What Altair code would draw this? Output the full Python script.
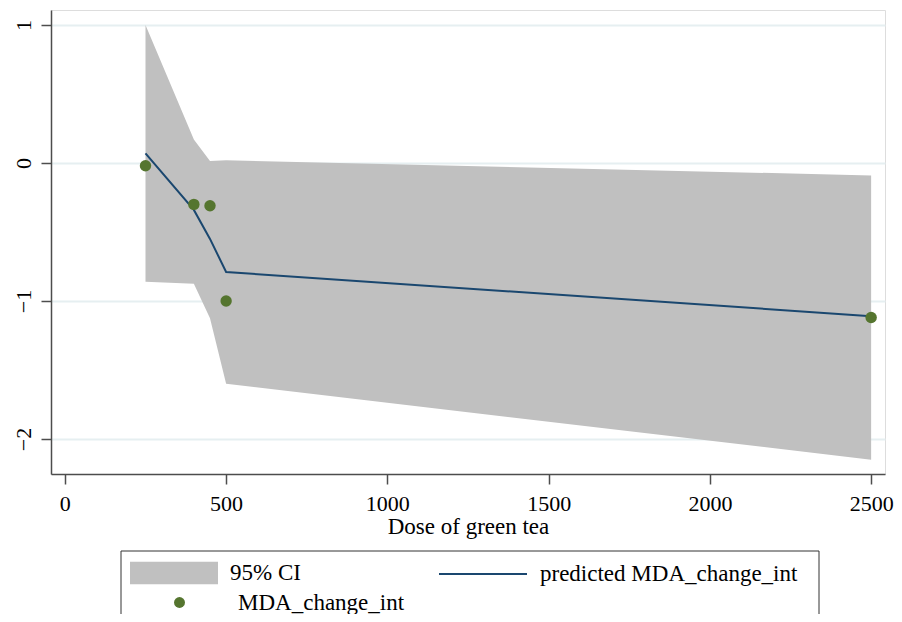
import altair as alt
import pandas as pd

# Data
dose = [250, 400, 450, 500, 2500]
mda_change = [-0.02, -0.30, -0.31, -1.00, -1.12]
predicted = [0.07, -0.34, -0.55, -0.79, -1.11]
ci_low = [-0.86, -0.875, -1.125, -1.60, -2.15]
ci_high = [1.00, 0.17, 0.015, 0.02, -0.09]
x_ticks = [0, 500, 1000, 1500, 2000, 2500]
y_ticks = [-2, -1, 0, 1]

df = pd.DataFrame({"dose": dose, "mda": mda_change, "pred": predicted,
                   "lo": ci_low, "hi": ci_high})

FONT = "Liberation Serif"
AX = "#4d4d4d"

xs = alt.Scale(domain=[-43, 2543], nice=False, zero=False)
ys = alt.Scale(domain=[-2.254, 1.109], nice=False, zero=False)

x_axis = alt.Axis(values=x_ticks, format="d", title="Dose of green tea", grid=False,
                  tickSize=10, tickColor=AX, domainColor=AX, domainWidth=1.5,
                  tickWidth=1.5, labelFont=FONT, labelFontSize=22,
                  labelColor="black", labelPadding=9, titleFont=FONT,
                  titleFontSize=23, titleFontWeight="normal", titleColor="black",
                  titlePadding=1, labelFlush=False)
y_axis = alt.Axis(values=y_ticks, format="d", title=None, grid=True, gridColor="#e6eff1",
                  gridWidth=2, tickSize=10, tickColor=AX, domainColor=AX,
                  domainWidth=1.5, tickWidth=1.5, labelFont=FONT,
                  labelFontSize=22, labelColor="black", labelAngle=270,
                  labelAlign="center", labelBaseline="bottom", labelPadding=6,
                  labelFlush=False)

LEG = dict(title=None, orient="none", labelFont=FONT, labelFontSize=23,
           labelColor="black", labelLimit=500, padding=0)

base = alt.Chart(df)

area = base.mark_area(opacity=1).encode(
    x=alt.X("dose:Q", scale=xs, axis=x_axis),
    y=alt.Y("lo:Q", scale=ys, axis=y_axis),
    y2="hi:Q",
    fill=alt.Fill("ci:N", scale=alt.Scale(domain=["95% CI"], range=["#c0c0c0"]),
                  legend=alt.Legend(legendX=79, legendY=519,
                                    symbolType="M-1,-0.257H1V0.257H-1Z", symbolSize=7744,
                                    symbolStrokeWidth=0, labelOffset=12, **LEG)),
).transform_calculate(ci='"95% CI"')

line = base.mark_line(strokeWidth=2).encode(
    x=alt.X("dose:Q", scale=xs),
    y=alt.Y("pred:Q", scale=ys),
    stroke=alt.Stroke("lab:N", scale=alt.Scale(domain=["predicted MDA_change_int"],
                                               range=["#1a476f"]),
                      legend=alt.Legend(legendX=387, legendY=519,
                                        symbolType="stroke", symbolSize=7744,
                                        symbolStrokeWidth=2, labelOffset=12, **LEG)),
).transform_calculate(lab='"predicted MDA_change_int"')

points = base.mark_point(filled=True, opacity=1, size=130).encode(
    x=alt.X("dose:Q", scale=xs),
    y=alt.Y("mda:Q", scale=ys),
    color=alt.Color("pt:N", scale=alt.Scale(domain=["MDA_change_int"], range=["#55752f"]),
                    legend=alt.Legend(legendX=117, legendY=581,
                                      symbolType="circle", symbolSize=120,
                                      symbolOpacity=1, labelOffset=47, **LEG)),
).transform_calculate(pt='"MDA_change_int"')

frame = alt.Chart(pd.DataFrame({"f": [0]})).mark_rect(
    fill="transparent", stroke="#333333", strokeWidth=1
).encode(x=alt.value(70), x2=alt.value(768), y=alt.value(541), y2=alt.value(660))

chart = alt.layer(area, line, points, frame).properties(
    width=834, height=464,
    autosize=alt.AutoSizeParams(type="none"),
    padding={"left": 43, "top": 2, "right": 9, "bottom": 140},
).configure_view(strokeWidth=0).configure(background="white")

chart.save("out.html", embed_options={"renderer": "svg", "actions": False})
